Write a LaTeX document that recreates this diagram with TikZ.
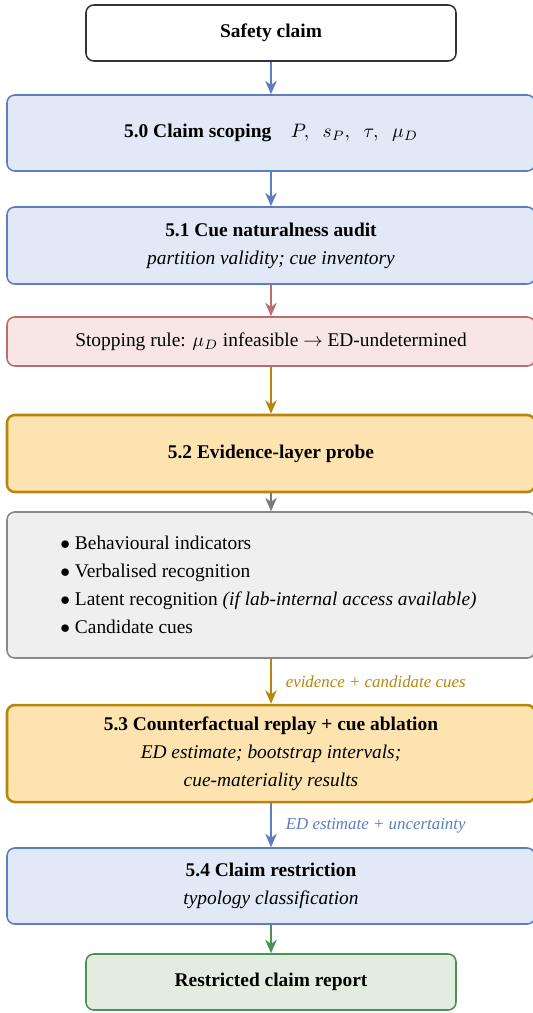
\documentclass[tikz,border=0pt]{standalone}
\usepackage{fontspec}
\setmainfont{Liberation Serif}
\usetikzlibrary{arrows.meta}
\newdimen\px \px=0.515pt
\definecolor{bluefill}{HTML}{E0E9F5}
\definecolor{blueline}{HTML}{5A7EC0}
\definecolor{pinkfill}{HTML}{F8E6E6}
\definecolor{pinkline}{HTML}{B86E6E}
\definecolor{goldfill}{HTML}{FDE3B0}
\definecolor{goldline}{HTML}{B8860B}
\definecolor{grayfill}{HTML}{EFEFEF}
\definecolor{grayline}{HTML}{888888}
\definecolor{greenfill}{HTML}{E2EDE0}
\definecolor{greenline}{HTML}{4C9150}
\definecolor{darkline}{HTML}{333333}
\tikzset{
  box/.style={rectangle, rounded corners=4pt, line width=0.8pt, align=center,
    inner sep=0pt, font=\normalsize},
  endbox/.style={box, minimum width=370\px},
  widebox/.style={box, minimum width=528\px},
  bluebox/.style={widebox, draw=blueline, fill=bluefill},
  goldbox/.style={widebox, draw=goldline, fill=goldfill, line width=1.3pt},
  conn/.style={line width=0.8pt, -{Stealth[length=7pt,width=6pt]}},
  clabel/.style={right, font=\fontsize{8.7pt}{10pt}\selectfont\itshape, inner sep=0pt, xshift=14\px},
}
\begin{document}
\begin{tikzpicture}[x=0.515pt, y=-0.515pt]
\useasboundingbox (0,0) rectangle (533,1013);
\node[endbox, draw=darkline, fill=white, minimum height=56\px] (safety) at (271,33) {\textbf{Safety claim}};
\node[bluebox, minimum height=76\px] (s50) at (271,133) {\textbf{5.0 Claim scoping}\quad $P,\ \; s_P,\ \; \tau,\ \; \mu_D$};
\node[bluebox, minimum height=77\px] (s51) at (271,245.5) {\textbf{5.1 Cue naturalness audit}\\[2.4pt]\textit{partition validity; cue inventory}};
\node[widebox, draw=pinkline, fill=pinkfill, minimum height=49\px] (stop) at (271,341.5) {Stopping rule: $\mu_D$ infeasible $\rightarrow$ ED-undetermined};
\node[goldbox, minimum height=77\px] (s52) at (271,453.5) {\textbf{5.2 Evidence-layer probe}};
\node[widebox, draw=grayline, fill=grayfill, minimum height=146\px] (evlist) at (271,585) {};
\node[anchor=west, align=left, inner sep=0pt] (evtext) at (60,585) {$\bullet$ Behavioural indicators\\[2.4pt]
$\bullet$ Verbalised recognition\\[2.4pt]
$\bullet$ Latent recognition \textit{(if lab-internal access available)}\\[2.4pt]
$\bullet$ Candidate cues};
\node[goldbox, minimum height=97\px] (s53) at (271,753.5) {\textbf{5.3 Counterfactual replay + cue ablation}\\[2.4pt]\textit{ED estimate; bootstrap intervals;}\\[2.4pt]\textit{cue-materiality results}};
\node[bluebox, minimum height=76\px] (s54) at (271,886) {\textbf{5.4 Claim restriction}\\[2.4pt]\textit{typology classification}};
\node[endbox, draw=greenline, fill=greenfill, minimum height=56\px] (report) at (271,982) {\textbf{Restricted claim report}};

\draw[conn, blueline] (safety) -- (s50);
\draw[conn, blueline] (s50) -- (s51);
\draw[conn, pinkline] (s51) -- (stop);
\draw[conn, goldline] (stop) -- (s52);
\draw[conn, grayline!90!black] (s52) -- (evlist);
\draw[conn, goldline] (evlist) -- node[clabel, text=goldline] {evidence + candidate cues} (s53);
\draw[conn, blueline] (s53) -- node[clabel, text=blueline] {ED estimate + uncertainty} (s54);
\draw[conn, greenline] (s54) -- (report);
\end{tikzpicture}
\end{document}
